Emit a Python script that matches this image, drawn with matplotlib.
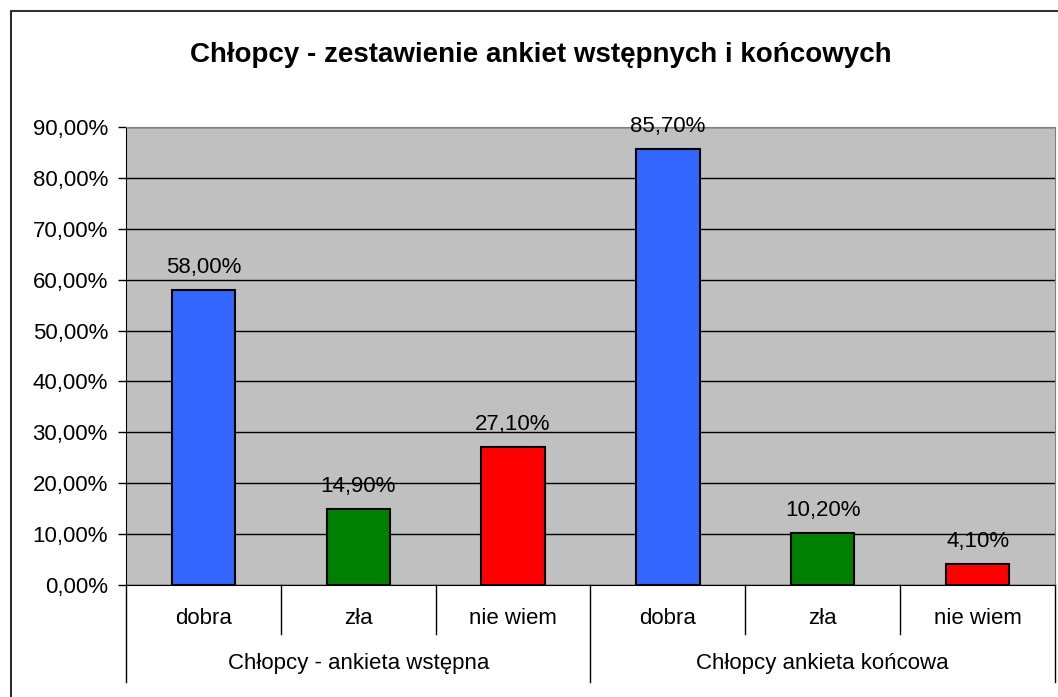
import matplotlib
matplotlib.use("Agg")
import matplotlib.pyplot as plt
from matplotlib.lines import Line2D
import matplotlib.transforms as mtrans

plt.rcParams['font.family'] = ['Liberation Sans', 'DejaVu Sans']

# data
answers = ['dobra', 'zła', 'nie wiem', 'dobra', 'zła', 'nie wiem']
groups = ['Chłopcy - ankieta wstępna', 'Chłopcy ankieta końcowa']
values = [0.58, 0.149, 0.271, 0.857, 0.102, 0.041]
colors = ['#3366FF', '#008000', '#FF0000', '#3366FF', '#008000', '#FF0000']
yticks = [0.0, 0.1, 0.2, 0.3, 0.4, 0.5, 0.6, 0.7, 0.8, 0.9]

W, H = 1058, 697
fs = 16
fig = plt.figure(figsize=(W / 100, H / 100), dpi=100)
# axes box in pixels: left 126, right 1055, top 127, bottom 585
ax = fig.add_axes([126 / W, (H - 585) / H, (1055 - 126) / W, (585 - 127) / H])
ax.set_facecolor('#C0C0C0')

x = list(range(len(values)))
ax.bar(x, values, width=0.41, color=colors, edgecolor='black', linewidth=1.5, zorder=3)
for xi, v in zip(x, values):
    ax.annotate(('%.2f%%' % (v * 100)).replace('.', ','), (xi, v), xytext=(0, 8.5),
                textcoords='offset points', ha='center', va='bottom', fontsize=fs, zorder=4)

ax.set_xlim(-0.5, len(values) - 0.5)
ax.set_ylim(0, 0.9)
ax.set_yticks(yticks)
ax.set_yticklabels([('%.2f%%' % (t * 100)).replace('.', ',') for t in yticks], fontsize=fs)
ax.yaxis.grid(True, color='black', linewidth=1)
ax.set_axisbelow(True)
ax.tick_params(axis='y', length=6, width=1, pad=7)
ax.set_xticks([])

for s in ['top', 'right']:
    ax.spines[s].set_color('#808080')
for s in ['left', 'bottom']:
    ax.spines[s].set_color('black')

# two-level category axis
trans = mtrans.blended_transform_factory(ax.transData, ax.transAxes)
for i, a in enumerate(answers):
    ax.text(i, -0.074, a, transform=trans, ha='center', va='center', fontsize=fs)
for j, g in enumerate(groups):
    ax.text(j * 3 + 1, -0.172, g, transform=trans, ha='center', va='center', fontsize=fs)
for sx in [0.5, 1.5, 3.5, 4.5]:
    ax.plot([sx, sx], [0, -0.107], transform=trans, color='black', lw=1, clip_on=False)
for sx in [-0.5, 2.5, 5.5]:
    ax.plot([sx, sx], [0, -0.212], transform=trans, color='black', lw=1, clip_on=False)

fig.text(541 / W, 1 - 55 / H, 'Chłopcy - zestawienie ankiet wstępnych i końcowych',
         ha='center', va='center', fontsize=20, fontweight='bold')

# outer chart border (left and top edges visible)
fig.add_artist(Line2D([10.5 / W, 10.5 / W], [0, 1 - 11 / H], transform=fig.transFigure, color='black', lw=1.2))
fig.add_artist(Line2D([10.5 / W, 1], [1 - 11 / H, 1 - 11 / H], transform=fig.transFigure, color='#333333', lw=1.5))

fig.savefig('out.png', dpi=100)
